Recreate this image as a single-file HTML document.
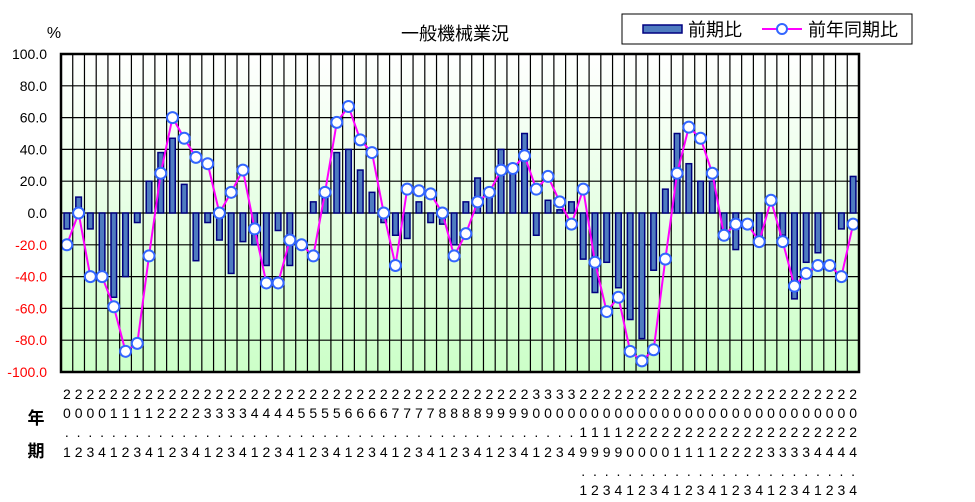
<!DOCTYPE html>
<html><head><meta charset="utf-8"><style>
body{margin:0;background:#fff;}
svg{display:block;font-family:"Liberation Sans","Noto Sans CJK JP",sans-serif;}
</style></head><body>
<svg id="chart" width="975" height="502" xmlns="http://www.w3.org/2000/svg">
<defs><linearGradient id="bg" x1="0" y1="0" x2="0" y2="1"><stop offset="0" stop-color="#ffffff"/><stop offset="1" stop-color="#ccffc8"/></linearGradient></defs>
<text x="455" y="40" font-size="18" text-anchor="middle">一般機械業況</text>
<text x="54" y="38" font-size="16" text-anchor="middle">%</text>
<g>
<rect x="622" y="14" width="290" height="30" fill="#fff" stroke="#000" stroke-width="1"/>
<rect x="643" y="25" width="39" height="8" fill="#4f7cc0" stroke="#000080" stroke-width="1.5"/>
<text x="688" y="36" font-size="18">前期比</text>
<line x1="762" y1="29" x2="802" y2="29" stroke="#ff00ff" stroke-width="2"/>
<circle cx="782" cy="29" r="5" fill="#fff" stroke="#3366ff" stroke-width="2"/>
<text x="808" y="36" font-size="18">前年同期比</text>
</g>
<text x="36" y="424" font-size="17" font-weight="bold" text-anchor="middle">年</text>
<text x="36" y="457" font-size="17" font-weight="bold" text-anchor="middle">期</text>
<g id="plot"></g>
</svg>
<script>
const qoq=[-10,10,-10,-37,-53,-40,-6,20,38,47,18,-30,-6,-17,-38,-18,-20,-33,-11,-33,0,7,12,38,40,27,13,-6,-14,-16,7,-6,-7,-20,7,22,12,40,25,50,-14,8,2,7,-29,-50,-31,-47,-67,-79,-36,15,50,31,20,20,-11,-23,0,-16,0,-14,-54,-31,-25,0,-10,23];
const yoy=[-20,0,-40,-40,-59,-87,-82,-27,25,60,47,35,31,0,13,27,-10,-44,-44,-17,-20,-27,13,57,67,46,38,0,-33,15,14,12,0,-27,-13,7,13,27,28,36,15,23,7,-7,15,-31,-62,-53,-87,-93,-86,-29,25,54,47,25,-14,-7,-7,-18,8,-18,-46,-38,-33,-33,-40,-7];
const yTicks=[100,80,60,40,20,0,-20,-40,-60,-80,-100];
const NS="http://www.w3.org/2000/svg";
const L=61,R=859,T=54,B=372,N=qoq.length;
const cw=(R-L)/N;
function xc(i){return L+cw*(i+0.5);}
function y(v){return T+(100-v)/200*(B-T);}
function mk(tag,attrs,parent){const e=document.createElementNS(NS,tag);for(const k in attrs)e.setAttribute(k,attrs[k]);(parent||plot).appendChild(e);return e;}
const plot=document.getElementById('plot');
let e=mk('rect',{x:L,y:T,width:R-L,height:B-T,fill:'url(#bg)'});


for(let i=1;i<N;i++){const x=L+cw*i;e=mk('line',{x1:x,y1:T,x2:x,y2:B,stroke:'#000','stroke-width':1.2});

}
yTicks.forEach(v=>{const yy=y(v);e=mk('line',{x1:L,y1:yy,x2:R,y2:yy,stroke:'#000','stroke-width':1.2});


const t=mk('text',{x:47,y:yy+5,'font-size':14,'text-anchor':'end',fill:v<0?'#ff0000':'#000'});
t.textContent=v.toFixed(1);

});
qoq.forEach((v,i)=>{const y0=y(0),y1=y(v);e=mk('rect',{x:xc(i)-2.8,y:Math.min(y0,y1),width:5.6,height:Math.abs(y1-y0),fill:'#4f7cc0',stroke:'#000080','stroke-width':1.5});

});
e=mk('polyline',{points:yoy.map((v,i)=>xc(i)+','+y(v)).join(' '),fill:'none',stroke:'#ff00ff','stroke-width':2});


yoy.forEach((v,i)=>{e=mk('circle',{cx:xc(i),cy:y(v),r:5.5,fill:'#fff',stroke:'#3366ff','stroke-width':2});

});
e=mk('rect',{x:L,y:T,width:R-L,height:B-T,fill:'none',stroke:'#000','stroke-width':2.5});


const rows=[394,413,432,452,471,490];
for(let i=0;i<N;i++){let chars;
if(i<44){const yr=20+Math.floor(i/4);chars=(yr+'.'+(i%4+1)).split('');}
else{const yr=2019+Math.floor((i-44)/4);chars=(yr+'.'+(i%4+1)).split('');}
const g=mk('text',{x:xc(i),'font-size':14,'text-anchor':'middle'});


chars.forEach((c,k)=>{const s=document.createElementNS(NS,'tspan');s.setAttribute('x',xc(i));s.setAttribute('y',rows[k]+5);s.textContent=c;g.appendChild(s);});}
</script>
</body></html>
